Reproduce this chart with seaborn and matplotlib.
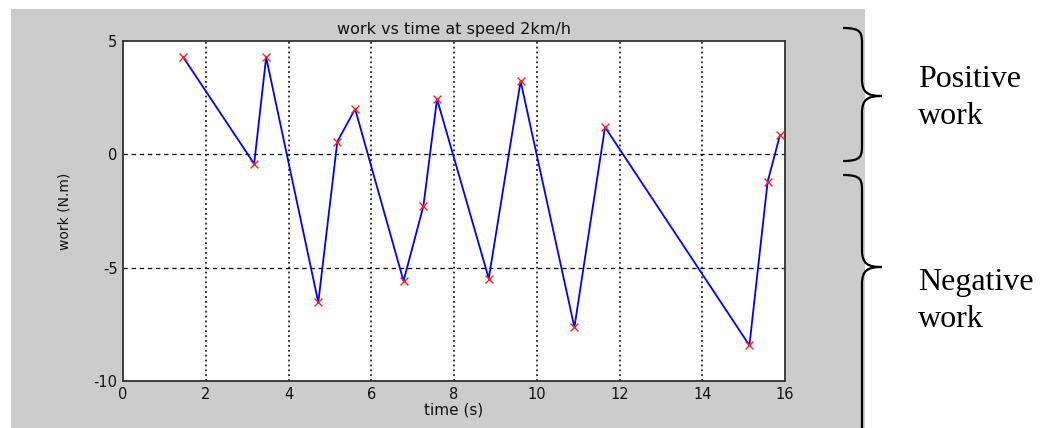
import matplotlib
matplotlib.use("Agg")
import matplotlib.pyplot as plt
import seaborn as sns
import pandas as pd
from matplotlib.patches import Rectangle, PathPatch
from matplotlib.path import Path

# ---- data ----
time_s = [1.45, 3.17, 3.46, 4.72, 5.18, 5.61, 6.78, 7.26, 7.59, 8.84,
          9.61, 10.91, 11.65, 15.14, 15.58, 15.88]
work_nm = [4.30, -0.42, 4.28, -6.53, 0.56, 2.00, -5.59, -2.29, 2.44, -5.48,
           3.23, -7.63, 1.20, -8.43, -1.21, 0.86]
x_ticks = [0, 2, 4, 6, 8, 10, 12, 14, 16]
y_ticks = [-10, -5, 0, 5]
y_tick_labels = ["-10", "-5", "0", "5"]
title_text = "work vs time at speed 2km/h"
xlabel_text = "time (s)"
ylabel_text = "work (N.m)"
annotations = [["Positive", "work"], ["Negative", "work"]]

df = pd.DataFrame({"time": time_s, "work": work_nm})

sns.set_style("white")
plt.rcParams["font.family"] = ["DejaVu Sans"]

W, H = 1048, 428
fig = plt.figure(figsize=(W / 100, H / 100), dpi=100)
fig.patch.set_facecolor("white")

def fx(px):
    return px / W

def fy(py):
    return 1 - py / H

# gray MATLAB-like panel
fig.patches.append(Rectangle((fx(11), fy(430)), fx(865) - fx(11), fy(9) - fy(430),
                             transform=fig.transFigure, facecolor="#cccccc",
                             edgecolor="none", zorder=-5))

ax = fig.add_axes([fx(123), fy(381), fx(785) - fx(123), fy(41) - fy(381)])
ax.set_zorder(3)
ax.set_facecolor("white")

sns.lineplot(data=df, x="time", y="work", ax=ax, color="#0000ff", linewidth=1.3,
             sort=False, zorder=3)
sns.scatterplot(data=df, x="time", y="work", ax=ax, marker="x", color="#ff2020",
                s=32, linewidth=1.0, zorder=4)

ax.set_xlim(0, 16)
ax.set_ylim(-10, 5)
ax.set_xticks(x_ticks)
ax.set_yticks(y_ticks)
ax.set_yticklabels(y_tick_labels)
ax.tick_params(axis="both", direction="in", length=3, width=0.8, colors="#222222",
               labelsize=10.5, pad=4)
for lbl in ax.get_xticklabels() + ax.get_yticklabels():
    lbl.set_color("#111111")

# grid: vertical dotted, horizontal dashed
for xv in x_ticks[1:-1]:
    ax.axvline(xv, color="black", linestyle=(0, (1.2, 2.0)), linewidth=1.1, zorder=1)
for yv in y_ticks[1:-1]:
    ax.axhline(yv, color="black", linestyle=(0, (3.5, 3.0)), linewidth=0.9, zorder=1)

for s in ax.spines.values():
    s.set_color("#333333")
    s.set_linewidth(1.3)

ax.set_title(title_text, fontsize=11.5, pad=5, color="#111111")
ax.set_xlabel(xlabel_text, fontsize=11, labelpad=1, color="#111111")
ax.set_ylabel(ylabel_text, fontsize=10, color="#111111",
              family=["Liberation Sans Narrow", "DejaVu Sans"])
ax.yaxis.set_label_coords((71 - 123) / 662, 0.5)

# braces
def brace(y0, y1, ytip, xl=843, xm=862, xt=882):
    r = 17
    verts = [
        (xl, y0),
        (xm, y0), (xm, y0 + r * 0.3), (xm, y0 + r),
        (xm, ytip - r),
        (xm, ytip - 3), (xm + 6, ytip), (xt, ytip),
        (xm + 6, ytip), (xm, ytip + 3), (xm, ytip + r),
        (xm, y1 - r),
        (xm, y1 - r * 0.3), (xm, y1), (xl, y1),
    ]
    codes = [Path.MOVETO,
             Path.CURVE4, Path.CURVE4, Path.CURVE4,
             Path.LINETO,
             Path.CURVE4, Path.CURVE4, Path.CURVE4,
             Path.CURVE4, Path.CURVE4, Path.CURVE4,
             Path.LINETO,
             Path.CURVE4, Path.CURVE4, Path.CURVE4]
    pv = [(fx(a), fy(b)) for a, b in verts]
    fig.patches.append(PathPatch(Path(pv, codes), transform=fig.transFigure,
                                 facecolor="none", edgecolor="black", linewidth=1.6,
                                 zorder=5))

brace(28, 161, 96)
brace(175, 440, 267)

for lines, base in zip(annotations, [87, 290]):
    for i, line in enumerate(lines):
        fig.text(fx(918), fy(base + 37 * i), line, fontsize=23,
                 family="Liberation Serif", va="baseline", ha="left", color="black")

fig.savefig("out.png", dpi=100)
